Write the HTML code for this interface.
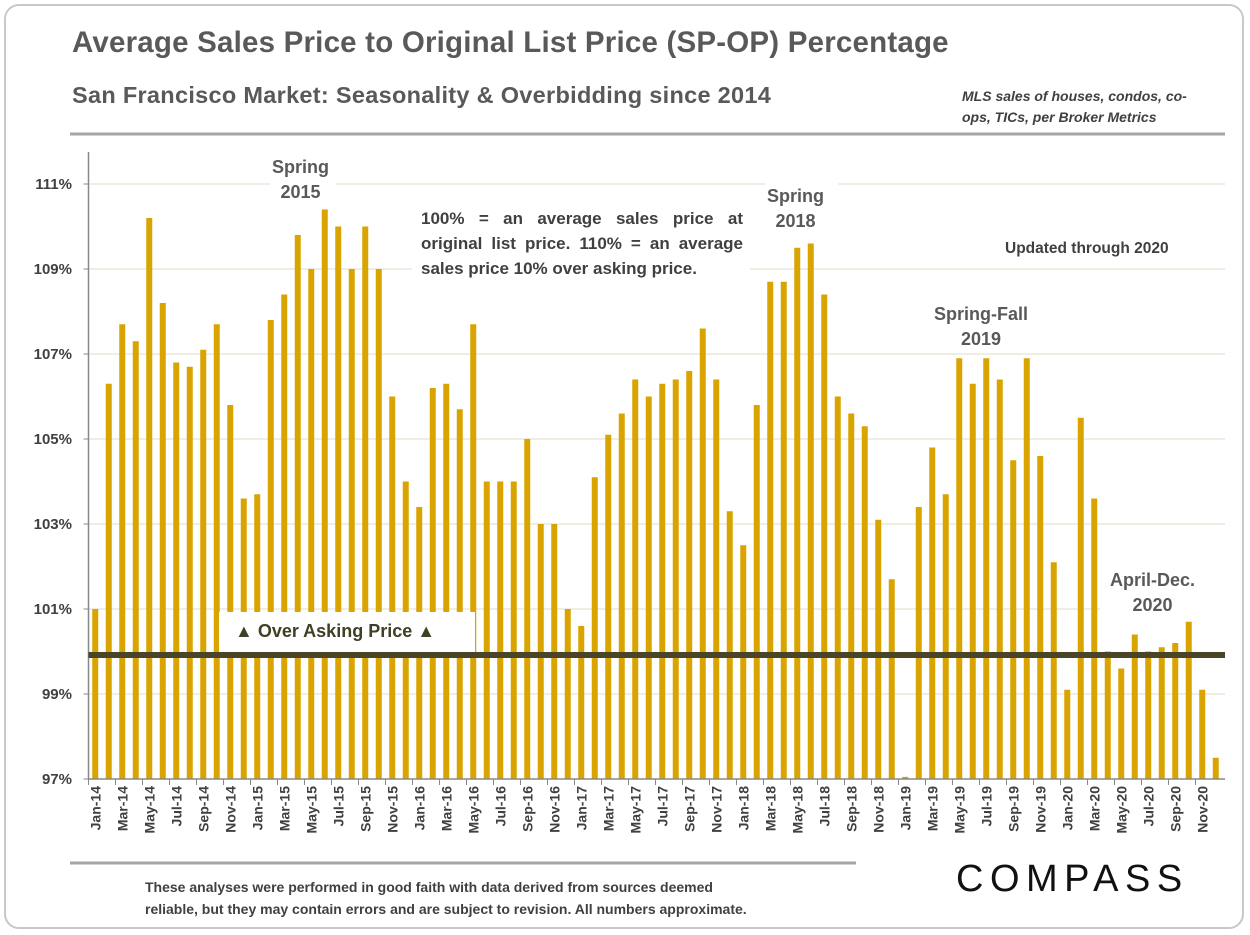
<!DOCTYPE html>
<html><head><meta charset="utf-8"><style>
body{margin:0;background:#fff;font-family:"Liberation Sans",sans-serif;}
#wrap{position:relative;width:1250px;height:935px;overflow:hidden;}
.t{position:absolute;font-weight:bold;color:#595959;white-space:nowrap}
</style></head><body>
<div id="wrap">
<svg id="svg" width="1250" height="935" style="position:absolute;left:0;top:0"></svg>
</div>
<script>
const months=["Jan","Feb","Mar","Apr","May","Jun","Jul","Aug","Sep","Oct","Nov","Dec"];
const years=["14","15","16","17","18","19","20"];
const values=[
101.0,106.3,107.7,107.3,110.2,108.2,106.8,106.7,107.1,107.7,105.8,103.6,
103.7,107.8,108.4,109.8,109.0,110.4,110.0,109.0,110.0,109.0,106.0,104.0,
103.4,106.2,106.3,105.7,107.7,104.0,104.0,104.0,105.0,103.0,103.0,101.0,
100.6,104.1,105.1,105.6,106.4,106.0,106.3,106.4,106.6,107.6,106.4,103.3,
102.5,105.8,108.7,108.7,109.5,109.6,108.4,106.0,105.6,105.3,103.1,101.7,
97.05,103.4,104.8,103.7,106.9,106.3,106.9,106.4,104.5,106.9,104.6,102.1,
99.1,105.5,103.6,100.0,99.6,100.4,100.0,100.1,100.2,100.7,99.1,97.5];
const yTicks=[97,99,101,103,105,107,109,111];
const categories=[];years.forEach(y=>months.forEach(m=>categories.push(m+"-"+y)));

const NS="http://www.w3.org/2000/svg",svg=document.getElementById("svg");
const x0=88.5,step=13.5,yBase=779,ppu=42.5;
const xs=i=>x0+step*(i+0.5);
const ys=v=>yBase-(v-97)*ppu;
function mk(t,a,p){const e=document.createElementNS(NS,t);for(const k in a)e.setAttribute(k,a[k]);(p||svg).appendChild(e);return e;}
let e=mk("rect",{x:5,y:5,width:1238,height:923,rx:14,fill:"#fff",stroke:"#c8c8c8","stroke-width":2});


e=mk("line",{x1:70,y1:134,x2:1225,y2:134,stroke:"#a6a6a6","stroke-width":3});


e=mk("line",{x1:70,y1:863,x2:856,y2:863,stroke:"#a6a6a6","stroke-width":3});


yTicks.forEach(v=>{
 const g=mk("line",{x1:x0,x2:1225,y1:ys(v),y2:ys(v),stroke:"#e0dcc8","stroke-width":1});
 
 
 mk("line",{x1:x0-5,x2:x0,y1:ys(v),y2:ys(v),stroke:"#888"});
 const t=mk("text",{x:72,y:ys(v)+5,"text-anchor":"end","font-size":15,"font-weight":"bold",fill:"#404040"});
 t.textContent=v+"%";
 
 
});
values.forEach((v,i)=>{
 const b=mk("rect",{x:xs(i)-3,y:ys(v),width:6,height:yBase-ys(v),fill:"#D9A300"});
 
 
});
categories.forEach((c,i)=>{
 if(i%2===0){
  mk("line",{x1:x0+step*i,x2:x0+step*i,y1:yBase,y2:yBase+6,stroke:"#888"});
  const t=mk("text",{transform:`translate(${xs(i)+5},786) rotate(-90)`,"text-anchor":"end","font-size":14,"font-weight":"bold",fill:"#404040"});
  t.textContent=c;
  
  
 }
});
mk("line",{x1:x0,x2:x0,y1:152,y2:yBase,stroke:"#888","stroke-width":1.5});
mk("line",{x1:x0,x2:1225,y1:yBase,y2:yBase,stroke:"#888","stroke-width":1.5});
[[219,612,256,40],[270,150,66,48],[765,180,73,52],[898,298,165,52],[1100,565,128,46],[412,200,338,86],[995,232,200,32]].forEach(r=>{
 const w=mk("rect",{x:r[0],y:r[1],width:r[2],height:r[3],fill:"#fff"});
 
 
});
e=mk("line",{x1:x0,x2:1225,y1:655,y2:655,stroke:"#4a4526","stroke-width":6});


</script>
<div class="t" style="left:72px;top:26px;font-size:29.5px;letter-spacing:0.2px">Average Sales Price to Original List Price (SP-OP) Percentage</div>
<div class="t" style="left:72px;top:82px;font-size:23.5px;letter-spacing:0.3px">San Francisco Market: Seasonality &amp; Overbidding since 2014</div>
<div class="t" style="left:962px;top:86px;font-size:14px;color:#404040;font-style:italic;line-height:21px;white-space:normal;width:240px">MLS sales of houses, condos, co-ops, TICs, per Broker Metrics</div>
<div class="t" style="left:1005px;top:240px;font-size:15.5px;color:#404040">Updated through 2020</div>
<div class="t" style="left:272px;top:155px;font-size:18px;text-align:center;line-height:25px">Spring<br>2015</div>
<div class="t" style="left:767px;top:184px;font-size:18px;text-align:center;line-height:25px">Spring<br>2018</div>
<div class="t" style="left:934px;top:302px;font-size:18px;text-align:center;line-height:25px">Spring-Fall<br>2019</div>
<div class="t" style="left:1110px;top:568px;font-size:18px;text-align:center;line-height:25px">April-Dec.<br>2020</div>
<div class="t" style="left:421px;top:206px;font-size:17px;line-height:25px;text-align:justify;white-space:normal;width:322px;color:#404040">100% = an average sales price at original list price. 110% = an average sales price 10% over asking price.</div>
<div class="t" style="left:235px;top:621px;font-size:18px;color:#404025">▲ Over Asking Price ▲</div>
<div class="t" style="left:145px;top:876px;font-size:14px;line-height:22px;color:#404040">These analyses were performed in good faith with data derived from sources deemed<br>reliable, but they may contain errors and are subject to revision. All numbers approximate.</div>
<div class="t" style="left:956px;top:858px;font-size:38px;color:#111;letter-spacing:6.5px;font-weight:normal">COMPASS</div>
</body></html>
